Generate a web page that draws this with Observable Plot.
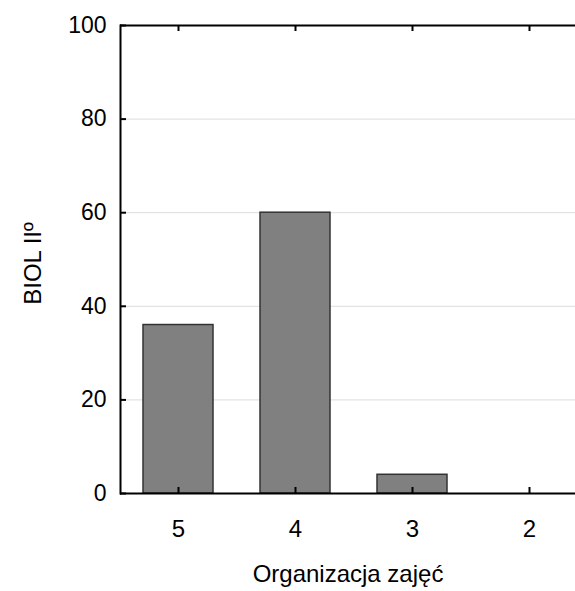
<!DOCTYPE html>
<html><head><meta charset="utf-8">
<script src="https://cdn.jsdelivr.net/npm/d3@7"></script>
<script src="https://cdn.jsdelivr.net/npm/@observablehq/plot@0.6"></script>
<style>body{margin:0;background:#fff}svg{font-family:"Liberation Sans",Arial,sans-serif}</style>
</head><body><div id="chart"></div>
<script>
const categories = ["5", "4", "3", "2"];
const values = [36, 60, 4, 0];
const yTicks = [0, 20, 40, 60, 80, 100];
const gridTicks = [20, 40, 60, 80];
const xLabel = "Organizacja zajęć";
const yLabel = "BIOL IIº";

const data = categories.map((c, i) => ({cat: c, value: values[i]}));
const W = 575, H = 591, mL = 120, mT = 25, mB = 98;
const innerH = H - mT - mB;
const tick = 6;

const chart = Plot.plot({
  width: W, height: H,
  marginLeft: mL, marginRight: 0, marginTop: mT, marginBottom: mB,
  style: {fontFamily: '"Liberation Sans", Arial, sans-serif', color: "#000", background: "#fff"},
  x: {domain: categories, range: [mL, mL + 468], paddingInner: 0.4, paddingOuter: 0.2},
  y: {domain: [0, 100]},
  marks: [
    Plot.ruleY(gridTicks, {stroke: "#dcdcdc", strokeWidth: 1}),
    Plot.barY(data, {x: "cat", y: "value", fill: "#808080", stroke: "#333", strokeWidth: 1.5}),
    Plot.ruleY([0], {stroke: "#000", strokeWidth: 2}),
    Plot.ruleY([100], {stroke: "#000", strokeWidth: 2}),
    Plot.ruleY(yTicks, {stroke: "#000", strokeWidth: 2, insetRight: W - mL - tick}),
    Plot.ruleX(categories, {x: d => d, y1: 100, y2: 0, stroke: "#000", strokeWidth: 2, insetTop: innerH - tick}),
    Plot.ruleX(categories, {x: d => d, y1: 100, y2: 0, stroke: "#000", strokeWidth: 2, insetBottom: innerH - tick}),
    Plot.axisY(yTicks, {tickSize: 0, tickPadding: 14, fontSize: 23, label: null}),
    Plot.axisX({tickSize: 0, tickPadding: 26, fontSize: 24, label: null}),
    Plot.text([yLabel], {frameAnchor: "left", dx: -87, dy: 4, rotate: -90, textAnchor: "middle", fontSize: 24, fill: "#000"}),
    Plot.text([xLabel], {frameAnchor: "bottom", dy: 88, fontSize: 24, fill: "#000"}),
    Plot.frame({anchor: "left", stroke: "#000", strokeWidth: 2})
  ]
});
document.getElementById("chart").append(chart);
</script></body></html>
